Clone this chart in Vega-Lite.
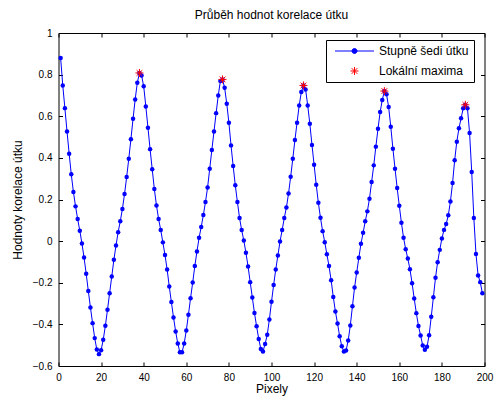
{
  "$schema": "https://vega.github.io/schema/vega-lite/v6.json",
  "width": 426,
  "height": 333,
  "autosize": {"type": "none"},
  "padding": {"left": 58.5, "top": 33, "right": 15.5, "bottom": 35},
  "background": "white",
  "config": {
    "font": "Liberation Sans",
    "view": {"stroke": "black", "strokeWidth": 1},
    "axis": {"grid": false, "domain": false, "tickColor": "black", "tickWidth": 1, "labelColor": "black", "titleColor": "black", "titleFontWeight": "normal", "labelFont": "Liberation Sans", "titleFont": "Liberation Sans"}
  },
  "title": {"text": "Průběh hodnot korelace útku", "fontSize": 12, "fontWeight": "normal", "font": "Liberation Sans", "color": "black", "anchor": "middle", "offset": 6},
  "datasets": {
    "series": [
      {"x":1,"y":0.880},{"x":2,"y":0.748},{"x":3,"y":0.639},{"x":4,"y":0.527},{"x":5,"y":0.420},{"x":6,"y":0.321},{"x":7,"y":0.236},{"x":8,"y":0.167},{"x":9,"y":0.106},{"x":10,"y":0.050},
      {"x":11,"y":-0.011},{"x":12,"y":-0.079},{"x":13,"y":-0.157},{"x":14,"y":-0.240},{"x":15,"y":-0.319},{"x":16,"y":-0.394},{"x":17,"y":-0.466},{"x":18,"y":-0.521},{"x":19,"y":-0.543},{"x":20,"y":-0.524},
      {"x":21,"y":-0.474},{"x":22,"y":-0.407},{"x":23,"y":-0.330},{"x":24,"y":-0.250},{"x":25,"y":-0.170},{"x":26,"y":-0.090},{"x":27,"y":-0.021},{"x":28,"y":0.043},{"x":29,"y":0.096},{"x":30,"y":0.154},
      {"x":31,"y":0.226},{"x":32,"y":0.308},{"x":33,"y":0.396},{"x":34,"y":0.490},{"x":35,"y":0.588},{"x":36,"y":0.681},{"x":37,"y":0.761},{"x":38,"y":0.808},{"x":39,"y":0.796},{"x":40,"y":0.744},
      {"x":41,"y":0.647},{"x":42,"y":0.545},{"x":43,"y":0.442},{"x":44,"y":0.345},{"x":45,"y":0.250},{"x":46,"y":0.171},{"x":47,"y":0.106},{"x":48,"y":0.053},{"x":49,"y":-0.006},{"x":50,"y":-0.067},
      {"x":51,"y":-0.136},{"x":52,"y":-0.218},{"x":53,"y":-0.293},{"x":54,"y":-0.367},{"x":55,"y":-0.434},{"x":56,"y":-0.492},{"x":57,"y":-0.534},{"x":58,"y":-0.534},{"x":59,"y":-0.492},{"x":60,"y":-0.429},
      {"x":61,"y":-0.354},{"x":62,"y":-0.274},{"x":63,"y":-0.199},{"x":64,"y":-0.120},{"x":65,"y":-0.050},{"x":66,"y":0.016},{"x":67,"y":0.068},{"x":68,"y":0.125},{"x":69,"y":0.188},{"x":70,"y":0.258},
      {"x":71,"y":0.348},{"x":72,"y":0.438},{"x":73,"y":0.527},{"x":74,"y":0.615},{"x":75,"y":0.700},{"x":76,"y":0.769},{"x":77,"y":0.777},{"x":78,"y":0.737},{"x":79,"y":0.660},{"x":80,"y":0.569},
      {"x":81,"y":0.460},{"x":82,"y":0.361},{"x":83,"y":0.268},{"x":84,"y":0.188},{"x":85,"y":0.111},{"x":86,"y":0.053},{"x":87,"y":0.003},{"x":88,"y":-0.056},{"x":89,"y":-0.122},{"x":90,"y":-0.197},
      {"x":91,"y":-0.271},{"x":92,"y":-0.345},{"x":93,"y":-0.409},{"x":94,"y":-0.470},{"x":95,"y":-0.518},{"x":96,"y":-0.530},{"x":97,"y":-0.494},{"x":98,"y":-0.450},{"x":99,"y":-0.377},{"x":100,"y":-0.291},
      {"x":101,"y":-0.211},{"x":102,"y":-0.136},{"x":103,"y":-0.069},{"x":104,"y":-0.002},{"x":105,"y":0.053},{"x":106,"y":0.111},{"x":107,"y":0.162},{"x":108,"y":0.229},{"x":109,"y":0.309},{"x":110,"y":0.396},
      {"x":111,"y":0.486},{"x":112,"y":0.569},{"x":113,"y":0.652},{"x":114,"y":0.716},{"x":115,"y":0.748},{"x":116,"y":0.729},{"x":117,"y":0.652},{"x":118,"y":0.564},{"x":119,"y":0.462},{"x":120,"y":0.367},
      {"x":121,"y":0.271},{"x":122,"y":0.184},{"x":123,"y":0.112},{"x":124,"y":0.048},{"x":125,"y":-0.005},{"x":126,"y":-0.063},{"x":127,"y":-0.120},{"x":128,"y":-0.188},{"x":129,"y":-0.268},{"x":130,"y":-0.338},
      {"x":131,"y":-0.396},{"x":132,"y":-0.457},{"x":133,"y":-0.505},{"x":134,"y":-0.530},{"x":135,"y":-0.526},{"x":136,"y":-0.478},{"x":137,"y":-0.405},{"x":138,"y":-0.313},{"x":139,"y":-0.223},{"x":140,"y":-0.151},
      {"x":141,"y":-0.080},{"x":142,"y":-0.013},{"x":143,"y":0.040},{"x":144,"y":0.095},{"x":145,"y":0.143},{"x":146,"y":0.204},{"x":147,"y":0.284},{"x":148,"y":0.364},{"x":149,"y":0.454},{"x":150,"y":0.540},
      {"x":151,"y":0.620},{"x":152,"y":0.678},{"x":153,"y":0.721},{"x":154,"y":0.706},{"x":155,"y":0.644},{"x":156,"y":0.550},{"x":157,"y":0.444},{"x":158,"y":0.348},{"x":159,"y":0.255},{"x":160,"y":0.170},
      {"x":161,"y":0.088},{"x":162,"y":0.016},{"x":163,"y":-0.039},{"x":164,"y":-0.084},{"x":165,"y":-0.135},{"x":166,"y":-0.202},{"x":167,"y":-0.276},{"x":168,"y":-0.346},{"x":169,"y":-0.408},{"x":170,"y":-0.453},
      {"x":171,"y":-0.502},{"x":172,"y":-0.522},{"x":173,"y":-0.508},{"x":174,"y":-0.452},{"x":175,"y":-0.363},{"x":176,"y":-0.270},{"x":177,"y":-0.176},{"x":178,"y":-0.101},{"x":179,"y":-0.042},{"x":180,"y":0.013},
      {"x":181,"y":0.054},{"x":182,"y":0.082},{"x":183,"y":0.124},{"x":184,"y":0.190},{"x":185,"y":0.279},{"x":186,"y":0.389},{"x":187,"y":0.478},{"x":188,"y":0.542},{"x":189,"y":0.590},{"x":190,"y":0.638},
      {"x":191,"y":0.655},{"x":192,"y":0.638},{"x":193,"y":0.519},{"x":194,"y":0.332},{"x":195,"y":0.111},{"x":196,"y":-0.062},{"x":197,"y":-0.165},{"x":198,"y":-0.197},{"x":199,"y":-0.250}
    ],
    "maxima": [
      {"x":38,"y":0.808,"series":"Lokální maxima"},
      {"x":77,"y":0.777,"series":"Lokální maxima"},
      {"x":115,"y":0.748,"series":"Lokální maxima"},
      {"x":153,"y":0.721,"series":"Lokální maxima"},
      {"x":191,"y":0.655,"series":"Lokální maxima"}
    ]
  },
  "resolve": {"axis": {"x": "independent", "y": "independent"}},
  "layer": [
    {
      "data": {"name": "series"},
      "mark": {"type": "line", "color": "#0000ff", "strokeWidth": 1},
      "encoding": {
        "x": {"field": "x", "type": "quantitative", "scale": {"domain": [0, 200], "nice": false, "zero": false},
              "axis": {"orient": "bottom", "values": [0,20,40,60,80,100,120,140,160,180,200], "tickSize": -4, "labelPadding": 10, "labelFontSize": 10, "labelFlush": false, "title": "Pixely", "titleFontSize": 12, "titlePadding": 1}},
        "y": {"field": "y", "type": "quantitative", "scale": {"domain": [-0.6, 1], "nice": false, "zero": false},
              "axis": {"orient": "left", "values": [-0.6,-0.4,-0.2,0,0.2,0.4,0.6,0.8,1], "format": "~g", "tickSize": -4, "labelPadding": 10.5, "labelFontSize": 10, "labelFlush": false, "title": "Hodnoty korelace útku", "titleFontSize": 12, "titlePadding": 8}}
      }
    },
    {
      "data": {"name": "series"},
      "mark": {"type": "point", "shape": "circle", "filled": true, "color": "#0000ff", "size": 20, "opacity": 1},
      "encoding": {
        "x": {"field": "x", "type": "quantitative",
              "axis": {"orient": "top", "values": [0,20,40,60,80,100,120,140,160,180,200], "tickSize": -4, "labels": false, "title": null}},
        "y": {"field": "y", "type": "quantitative",
              "axis": {"orient": "right", "values": [-0.6,-0.4,-0.2,0,0.2,0.4,0.6,0.8,1], "tickSize": -4, "labels": false, "title": null}}
      }
    },
    {
      "data": {"name": "maxima"},
      "mark": {"type": "point", "filled": true, "strokeWidth": 1, "size": 100, "opacity": 1},
      "encoding": {
        "x": {"field": "x", "type": "quantitative", "axis": null},
        "y": {"field": "y", "type": "quantitative", "axis": null},
        "fill": {"field": "series", "type": "nominal",
                 "scale": {"domain": ["Stupně šedi útku", "Lokální maxima"], "range": ["#0000ff", "#ff0000"]},
                 "legend": {"title": null, "orient": "none", "legendX": 267.5, "legendY": 7, "padding": 5, "strokeColor": "black", "fillColor": "white", "symbolOffset": 17.5, "labelOffset": 18.5, "rowPadding": 8, "labelFontSize": 12, "labelColor": "black", "labelFont": "Liberation Sans", "symbolSize": 100, "symbolStrokeWidth": 1, "symbolOpacity": 1}},
        "stroke": {"field": "series", "type": "nominal",
                 "scale": {"domain": ["Stupně šedi útku", "Lokální maxima"], "range": ["#0000ff", "#ff0000"]},
                 "legend": {"title": null, "orient": "none", "legendX": 267.5, "legendY": 7, "padding": 5, "strokeColor": "black", "fillColor": "white", "symbolOffset": 17.5, "labelOffset": 18.5, "rowPadding": 8, "labelFontSize": 12, "labelColor": "black", "labelFont": "Liberation Sans", "symbolSize": 100, "symbolStrokeWidth": 1, "symbolOpacity": 1}},
        "shape": {"field": "series", "type": "nominal",
                 "scale": {"domain": ["Stupně šedi útku", "Lokální maxima"], "range": ["M-3.9,0L3.9,0M-0.5,0A0.5,0.5 0 1,1 0.5,0A0.5,0.5 0 1,1 -0.5,0Z", "M-0.8,0L0.8,0M0,-0.8L0,0.8M-0.57,-0.57L0.57,0.57M-0.57,0.57L0.57,-0.57"]},
                 "legend": {"title": null, "orient": "none", "legendX": 267.5, "legendY": 7, "padding": 5, "strokeColor": "black", "fillColor": "white", "symbolOffset": 17.5, "labelOffset": 18.5, "rowPadding": 8, "labelFontSize": 12, "labelColor": "black", "labelFont": "Liberation Sans", "symbolSize": 100, "symbolStrokeWidth": 1, "symbolOpacity": 1}}
      }
    }
  ]
}
